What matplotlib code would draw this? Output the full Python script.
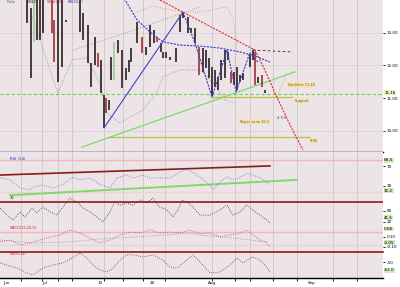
import matplotlib
matplotlib.use("Agg")
import matplotlib.pyplot as plt
from matplotlib.transforms import blended_transform_factory

# ---- price bars: day index, high, low, colour code (k black, r red, g green)
bar_day = [9.0, 10.3, 11.3, 12.3, 13.3, 14.3, 17.3, 18.0, 19.3, 20.7, 22.0,
           26.7, 27.7, 29.3, 30.3, 31.7, 32.7, 33.7, 34.7, 35.5, 36.3, 37.0,
           38.0, 39.3, 40.7, 42.0, 43.0, 43.7, 45.7, 47.3, 48.7, 50.0, 51.3,
           52.3, 53.7, 54.3, 55.3, 56.7, 58.7, 60.0, 61.0, 62.7, 63.7, 65.0,
           66.3, 67.7, 68.7, 69.7, 70.7, 71.7, 72.7, 73.7, 75.0, 76.0, 77.0,
           78.0, 79.0, 80.0, 81.0, 83.3, 84.3, 85.0, 86.0, 87.3, 88.3]
bar_high = [14.2, 13.76, 14.2, 14.2, 14.2, 14.2, 14.2, 13.39, 14.2, 14.2, 13.40,
            14.2, 13.60, 13.24, 12.07, 12.87, 12.38, 12.17, 11.09, 11.00, 10.94, 12.26,
            12.72, 12.78, 12.47, 11.92, 12.17, 12.53, 13.33, 12.87, 12.56, 13.24, 13.08,
            12.87, 12.69, 12.41, 12.41, 12.26, 12.53, 13.54, 13.63, 13.48, 13.14, 13.14,
            12.56, 12.53, 12.47, 12.23, 11.95, 11.86, 11.65, 12.17, 12.47, 12.41, 11.80,
            11.80, 11.95, 11.71, 11.77, 12.32, 12.47, 12.41, 11.65, 11.71, 11.25]
bar_low = [13.30, 11.61, 12.72, 12.78, 12.78, 12.99, 12.99, 12.10, 11.49, 11.95, 13.33,
           13.02, 12.78, 12.07, 11.34, 12.01, 11.95, 11.16, 10.09, 10.54, 10.64, 11.55,
           11.55, 12.38, 11.31, 11.55, 11.80, 12.10, 12.69, 12.38, 12.32, 12.56, 12.69,
           12.72, 12.41, 12.23, 12.23, 12.17, 12.10, 13.02, 13.45, 12.99, 12.99, 12.69,
           11.71, 11.80, 11.92, 11.61, 11.09, 11.34, 11.25, 11.55, 11.61, 12.17, 11.46,
           11.40, 11.25, 11.49, 11.55, 11.95, 12.17, 11.40, 11.46, 11.34, 11.16]
bar_col = "kkgkkkrrkkk" "kkkkkrkkrkk" "gkkkkkkrkkk" "rkkkkkkkkkk" "rkkkkkkkkkr" "kkkkkkrkrk"

# ---- drawn studies on the price panel
up_trend_day = [34.7, 61.0]
up_trend_px = [10.09, 13.63]
zigzag_day = [61.0, 65.0, 70.7, 75.7, 78.7, 83.3, 86.0]
zigzag_px = [13.63, 12.69, 11.03, 12.47, 11.19, 12.38, 12.10]
arc_day = [39.3, 41.7, 45.7, 50.0, 54.3, 60.0, 66.7, 73.3, 80.0, 85.0, 90.0]
arc_px = [14.15, 14.0, 13.39, 13.02, 12.72, 12.62, 12.59, 12.53, 12.41, 12.29, 12.10]
down_trend_day = [53.3, 85.0]
down_trend_px = [14.0, 12.47]
drop_day = [85.0, 88.3, 92.3, 96.7, 101.0]
drop_px = [12.47, 11.86, 11.03, 10.18, 9.41]
rise_day = [27.3, 98.3]
rise_px = [9.50, 11.80]
rise2_day = [92.3, 95.7]
rise2_px = [11.03, 11.77]
last_close = 11.13
support_day = [70.0, 97.7]
support_px = 11.03
target_day = [35.7, 103.3]
target_px = 9.81
proj_day = [84.3, 97.7]
proj_px = [12.47, 12.41]
lower_day = [10.7, 15.0, 19.3, 24.0, 29.0, 33.3, 35.7, 40.0, 47.7, 52.3, 54.3,
             60.0, 66.7, 71.7, 75.0, 78.3]
lower_px = [13.48, 12.32, 11.16, 12.17, 12.23, 11.46, 10.54, 10.24, 10.64, 11.16, 11.65,
            11.86, 11.86, 11.40, 10.94, 10.85]
upper_day = [24.3, 40.0, 66.7]
upper_px = [12.47, 12.93, 13.79]
band_day = [45.7, 51.0, 56.7, 61.7, 66.7, 70.0, 75.7, 77.7, 79.0, 78.3, 76.7]
band_px = [13.63, 13.82, 13.69, 13.63, 13.63, 13.69, 13.79, 13.39, 12.78, 11.95, 11.34]

# ---- indicator panels (0-100 scales)
p2_day = [0, 3.3, 6.7, 10, 11, 14.3, 17.7, 21, 24.3, 26.7, 30, 33.3, 36.7, 39, 42.3,
          44.3, 47.7, 50, 53.3, 56.7, 60, 62.3, 65.7, 70, 71, 73.3, 75.7, 77.7, 80,
          82.3, 84.3, 86.7, 89, 90]
p2_val = [46, 42, 25, 21, 27, 31, 25, 33, 48, 42, 46, 33, 25, 46, 52, 46, 52, 46, 46,
          46, 58, 64, 52, 31, 21, 37, 48, 42, 46, 56, 52, 46, 37, 31]
p2_res_day = [0, 90]
p2_res = [52, 71]
p2_sup_day = [3.3, 99]
p2_sup = [10, 42]

p3_day = [0, 2.3, 4.3, 6.7, 8.3, 10.7, 12.3, 14.3, 16.7, 19, 21, 23.3, 25.7, 27.7,
          30, 32.3, 34.3, 36.7, 38.3, 40, 42.3, 44.3, 46.7, 49, 51, 53.3, 55.7, 57.7,
          59.3, 60.7, 62.3, 64.3, 66.7, 70, 73.3, 75.7, 77.7, 80, 82.3, 84.3, 86.7, 89, 90]
p3_val = [70, 44, 26, 56, 37, 70, 52, 74, 56, 44, 74, 107, 93, 70, 56, 37, 19, 56,
          93, 81, 89, 81, 100, 89, 107, 74, 63, 37, 63, 100, 93, 74, 44, 44, 63, 81,
          44, 56, 81, 63, 44, 26, 15]

p4_day = [0, 3.3, 6.7, 10, 13.3, 16.7, 20, 23.3, 26.7, 30, 33.3, 36.7, 40, 43.3,
          46.7, 50, 53.3, 56.7, 60, 63.3, 66.7, 70, 73.3, 76.7, 80, 82.3, 84.3, 86.7, 89, 90]
p4_macd = [40, 48, 28, 36, 48, 60, 68, 88, 76, 56, 36, 48, 68, 80, 76, 88, 76, 80,
           76, 88, 72, 76, 60, 68, 76, 88, 68, 48, 36, 20]
p4_sig_day = [0, 11, 22.3, 33.3, 44.3, 55.7, 62.3, 66.7, 77.7, 89]
p4_sig = [48, 36, 40, 52, 60, 68, 76, 68, 56, 40]

p5_day = [0, 2.3, 5.7, 9, 11, 14.3, 17.7, 21, 24, 26.7, 29, 31, 33.3, 35.7, 37.7,
          40, 42.3, 44.3, 47.7, 51, 54.3, 56.7, 59, 62.3, 64.3, 66.7, 70, 73.3, 76.7,
          79, 81, 84.3, 86.7, 89, 90]
p5_val = [58, 50, 38, 19, 12, 38, 50, 58, 77, 96, 77, 50, 31, 23, 38, 69, 89, 89,
          81, 89, 69, 42, 38, 69, 89, 62, 19, 23, 50, 77, 58, 81, 69, 42, 23]

grid_days = [7, 14, 19.3, 24, 34.7, 41, 47.7, 55, 70.7, 78.3, 83.3, 91, 99, 111, 119]
month_days = [1, 14, 32.7, 50, 69.3, 102.7]
month_labels = ["Jun", "Jul", "13", "20", "Aug", "Sep"]

BG = "#ede4e8"
GRID = "#cfc5ca"
DARKRED = "#8b1a1a"
PINK = "#f2b6bf"

fig = plt.figure(figsize=(4.0, 2.87), dpi=100)
fig.patch.set_facecolor("white")
W, H = 400.0, 287.0
right_px = 383.0
panels = [(0, 152), (152, 200), (200, 227), (227, 252), (252, 278)]
axes = []
for top, bot in panels:
    ax = fig.add_axes([0, 1 - bot / H, right_px / W, (bot - top) / H])
    ax.set_facecolor(BG)
    ax.set_xlim(0, 127.7)
    for s in ax.spines.values():
        s.set_visible(False)
    ax.tick_params(axis="x", bottom=False, labelbottom=False)
    ax.yaxis.tick_right()
    ax.tick_params(axis="y", length=1.5, width=0.6, pad=1, labelsize=3, colors="black")
    for d in grid_days:
        ax.axvline(d, color=GRID, lw=0.6, zorder=0)
    axes.append(ax)
ax1, ax2, ax3, ax4, ax5 = axes

# price panel
ax1.set_ylim(9.35, 14.0)
ax1.set_yticks([13, 12, 11, 10])
ax1.set_yticklabels(["13.00", "12.00", "11.00", "10.00"])
for p in [13, 12, 10]:
    ax1.axhline(p, color="#d9d0d4", lw=0.5, zorder=0)
ax1.spines["bottom"].set_visible(True)
ax1.spines["bottom"].set_color("black")
ax1.spines["bottom"].set_linewidth(1.0)

colors = {"k": "#1a0f0f", "r": "#9b2020", "g": "#9cc79c"}
for d, hi, lo, c in zip(bar_day, bar_high, bar_low, bar_col):
    ax1.vlines(d, lo, hi, color=colors[c], lw=1.1, zorder=3)

ax1.plot(lower_day, lower_px, color="#8c8c8c", lw=0.6, ls=":", zorder=2)
ax1.plot(upper_day, upper_px, color="#8c8c8c", lw=0.6, ls=":", zorder=2)
ax1.plot(band_day, band_px, color="#d88f98", lw=0.6, ls=":", zorder=2)
ax1.axhline(last_close, color="#6fcf4f", lw=0.8, ls=(0, (3, 2)), zorder=2)
ax1.plot(rise_day, rise_px, color="#7fd86a", lw=0.9, zorder=2)
ax1.plot(rise2_day, rise2_px, color="#6fcf4f", lw=0.7, ls=":", zorder=2)
ax1.hlines(support_px, *support_day, color="#b5c24a", lw=0.9, zorder=2)
ax1.hlines(target_px, *target_day, color="#b5c24a", lw=0.9, zorder=2)
ax1.plot(up_trend_day, up_trend_px, color="#4040d0", lw=0.8, zorder=4)
ax1.plot(zigzag_day, zigzag_px, color="#3a3ac8", lw=0.8, ls=(0, (2, 1)), zorder=4)
ax1.plot(arc_day, arc_px, color="#3a3ac8", lw=0.8, ls=(0, (2, 1)), zorder=4)
ax1.plot(down_trend_day, down_trend_px, color="#e03030", lw=0.8, ls=(0, (2, 1)), zorder=4)
ax1.plot(drop_day, drop_px, color="#e03030", lw=0.8, ls=(0, (2, 1)), zorder=4)
ax1.plot(proj_day, proj_px, color="#302020", lw=0.6, ls=(0, (3, 3)), zorder=4)

box = dict(boxstyle="square,pad=0.15", fc="#f3e4b5", ec="none")
ax1.text(96.0, 11.40, "Neckline 11.40", fontsize=2.6, color="#7a5a20", bbox=box, va="center")
ax1.text(98.3, 10.92, "Support", fontsize=2.6, color="#7a5a20", bbox=box, va="center")
ax1.text(79.7, 10.27, "Target zone 10.2", fontsize=2.6, color="#7a5a20", bbox=box, va="center")
ax1.text(92.3, 10.38, "-4.5%", fontsize=2.6, color="#505050", va="center")
ax1.text(103.3, 9.70, "9.80", fontsize=2.6, color="#7a5a20", bbox=box, va="center")
ax1.text(2.3, 13.93, "Daily", fontsize=2.6, color="#606060", va="center")
ax1.text(9.0, 13.93, "OHLC", fontsize=2.6, color="black", va="center")
ax1.text(15.7, 13.93, "SMA(20)", fontsize=2.6, color="#c03030", va="center")
ax1.text(22.7, 13.93, "BB(20,2)", fontsize=2.6, color="#3030c0", va="center")
tr = blended_transform_factory(ax1.transAxes, ax1.transData)
ax1.text(1.003, 11.16, "11.16", transform=tr, fontsize=3, va="center",
         bbox=dict(boxstyle="square,pad=0.1", fc="#e6f2c4", ec="none"))

# indicator panel 2
ax2.set_ylim(0, 100)
ax2.set_yticks([70, 30])
ax2.set_yticklabels(["70", "30"])
ax2.axhline(83, color=PINK, lw=1.0, zorder=1)
ax2.axhline(17, color="#e9d3d8", lw=1.0, zorder=1)
ax2.plot(p2_res_day, p2_res, color=DARKRED, lw=1.2, zorder=2)
ax2.plot(p2_sup_day, p2_sup, color="#7fd86a", lw=1.4, zorder=2)
ax2.plot(p2_day, p2_val, color="#6a6ac8", lw=0.6, ls=":", zorder=3)
ax2.text(3.3, 86, "RSI (14)", fontsize=2.8, color="#3030c0", va="center")
ax2.text(3.3, 4, "30", fontsize=2.6, color="black", va="center")
tr2 = blended_transform_factory(ax2.transAxes, ax2.transData)
for v, lab in [(83, "68.4"), (19, "31.2")]:
    ax2.text(1.003, v, lab, transform=tr2, fontsize=3, va="center",
             bbox=dict(boxstyle="square,pad=0.1", fc="#cfeabc", ec="none"))

# indicator panel 3
ax3.set_ylim(0, 100)
ax3.set_yticks([60, 20])
ax3.set_yticklabels(["80", "20"])
ax3.axhline(93, color=DARKRED, lw=1.2, zorder=1)
ax3.plot(p3_day, p3_val, color="#303030", lw=0.6, ls=":", zorder=3, clip_on=False)
tr3 = blended_transform_factory(ax3.transAxes, ax3.transData)
ax3.text(1.003, 35, "41.5", transform=tr3, fontsize=3, va="center",
         bbox=dict(boxstyle="square,pad=0.1", fc="#cfeabc", ec="none"))

# indicator panel 4
ax4.set_ylim(0, 100)
ax4.set_yticks([60, 20])
ax4.set_yticklabels(["0.10", "-0.10"])
ax4.axhline(80, color=PINK, lw=1.0, zorder=1)
ax4.axhline(28, color="#e9d3d8", lw=1.0, zorder=1)
ax4.plot(p4_sig_day, p4_sig, color="#7a9a7a", lw=0.6, ls=":", zorder=3)
ax4.plot(p4_day, p4_macd, color="#c84040", lw=0.6, ls=":", zorder=3)
ax4.text(3.3, 96, "MACD(12,26,9)", fontsize=2.6, color="#c03030", va="center")
tr4 = blended_transform_factory(ax4.transAxes, ax4.transData)
for v, lab in [(92, "0.08"), (38, "-0.05")]:
    ax4.text(1.003, v, lab, transform=tr4, fontsize=3, va="center",
             bbox=dict(boxstyle="square,pad=0.1", fc="#cfeabc", ec="none"))

# indicator panel 5
ax5.set_ylim(0, 100)
ax5.set_yticks([60])
ax5.set_yticklabels(["-50"])
ax5.axhline(100, color=DARKRED, lw=1.2, zorder=1, clip_on=False)
ax5.plot(p5_day, p5_val, color="#6a3a3a", lw=0.6, ls=":", zorder=3)
ax5.text(3.3, 92, "W%R(14)", fontsize=2.6, color="#c03030", va="center")
tr5 = blended_transform_factory(ax5.transAxes, ax5.transData)
ax5.text(1.003, 30, "-62.0", transform=tr5, fontsize=3, va="center",
         bbox=dict(boxstyle="square,pad=0.1", fc="#cfeabc", ec="none"))

ax5.spines["bottom"].set_visible(True)
ax5.spines["bottom"].set_color("black")
ax5.spines["bottom"].set_linewidth(1.0)
ax5.tick_params(axis="x", bottom=True, length=2, width=0.6, direction="out")
ax5.set_xticks(grid_days)
ax5.set_xticks([24, 78.3], minor=True)
ax5.tick_params(axis="x", which="minor", bottom=True, length=6, width=0.8)
trx = blended_transform_factory(ax5.transData, fig.transFigure)
for d, lab in zip(month_days, month_labels):
    ax5.text(d, 0.008, lab, transform=trx, fontsize=3, va="bottom", ha="left")

fig.savefig("out.png", dpi=100, facecolor="white")
